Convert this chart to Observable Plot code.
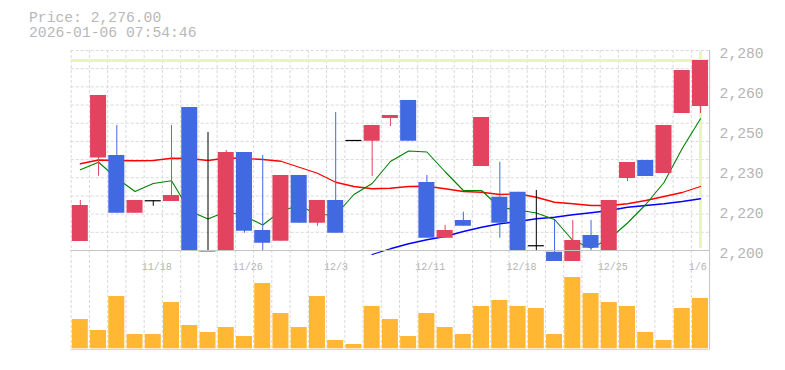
<!DOCTYPE html>
<html>
<head>
<meta charset="utf-8">
<script src="https://cdn.jsdelivr.net/npm/d3@7"></script>
<script src="https://cdn.jsdelivr.net/npm/@observablehq/plot@0.6"></script>
<style>
  html, body { margin: 0; padding: 0; background: #fff; }
  #wrap { position: relative; width: 785px; height: 370px; overflow: hidden; font-family: "Liberation Mono", "DejaVu Sans Mono", monospace; }
  #title { position: absolute; left: 29px; top: 11px; font-size: 14.7px; line-height: 15px; color: #b8b8b8; white-space: pre; }
  #vol, #price { position: absolute; left: 0; }
  #vol { top: 250px; }
  #price { top: 0; }
  svg { overflow: hidden; }
</style>
</head>
<body>
<div id="wrap">
  <div id="vol"></div>
  <div id="price"></div>
  <div id="title">Price: 2,276.00
2026-01-06 07:54:46</div>
</div>
<script>
// ---- data ----
const dates = ["11/12","11/13","11/14","11/17","11/18","11/19","11/20","11/21","11/25","11/26",
               "11/27","11/28","12/1","12/2","12/3","12/4","12/5","12/8","12/9","12/11",
               "12/12","12/15","12/16","12/17","12/18","12/19","12/22","12/23","12/24","12/25",
               "12/26","12/29","12/30","1/5","1/6"];
const open  = [2203.6, 2237, 2238, 2214.9, 2219.9, 2219.6, 2257.2, 2199.9, 2199.8, 2239.2,
               2208, 2203.7, 2230, 2210.9, 2220, 2244, 2243.7, 2252.8, 2260, 2227.2,
               2204.9, 2212, 2233.6, 2221.3, 2223.3, 2201.9, 2199.3, 2194, 2206, 2199.8,
               2228.8, 2236, 2230.8, 2254.8, 2257.6];
const close = [2218, 2262, 2214.9, 2220, 2219.9, 2222, 2199.8, 2199.9, 2239.2, 2207.7,
               2202.9, 2230, 2210.9, 2220, 2206.9, 2244, 2250, 2254, 2243.7, 2204.9,
               2208, 2209.7, 2253.2, 2210.9, 2199.8, 2201.9, 2194, 2204, 2200.9, 2220,
               2235.2, 2229.6, 2250, 2272, 2276];
const high  = [2220, 2262, 2250, 2220, 2219.9, 2250, 2257.2, 2247.2, 2240, 2239.2,
               2238, 2230, 2230, 2220, 2255.2, 2244, 2250, 2254, 2260, 2230,
               2210, 2215.3, 2253.2, 2235.3, 2223.3, 2224, 2212, 2212, 2212, 2220,
               2235.2, 2236, 2250, 2272, 2276];
const low   = [2203.6, 2229.7, 2214.9, 2214.9, 2217.7, 2219.6, 2199.8, 2199.9, 2199.8, 2206.9,
               2199.8, 2203.7, 2210.9, 2209.7, 2206.9, 2244, 2229.6, 2249.6, 2243.7, 2204.9,
               2204.9, 2209.7, 2233.6, 2204.9, 2199.8, 2199.8, 2194, 2194, 2199.8, 2199.8,
               2227.6, 2229.6, 2230.8, 2254.8, 2254.8];
const volume = [29.3, 18.3, 52.3, 14.3, 14.3, 46.3, 23.3, 16.3, 21.3, 12.3,
                65.3, 35.3, 21.3, 52.3, 8.3, 4.3, 42.3, 29.3, 12.3, 35.3,
                21.3, 14.3, 42.3, 48.3, 42.3, 40.3, 14.3, 71.3, 55.3, 46.3,
                42.3, 16.3, 8.3, 40.3, 50.3];
const ma5  = [2232.3, 2235.3, 2228.9, 2223.6, 2226.8, 2227.9, 2215.8, 2212.6, 2215.6, 2213.8,
              2210.2, 2215.8, 2218, 2214.4, 2214.2, 2222.4, 2226.8, 2235.6, 2239.8, 2239.4,
              2231.5, 2224, 2224, 2217.2, 2216.2, 2215, 2212.4, 2204, 2201, 2204.6,
              2211, 2218.4, 2227.2, 2240.8, 2252.7];
const ma25 = [2234.7, 2236.2, 2236, 2235.9, 2236, 2236.9, 2236.8, 2236, 2237, 2236.8,
              2236.4, 2235.7, 2233.3, 2230.9, 2227.3, 2225.6, 2224.7, 2224.9, 2225.6, 2225.7,
              2224.7, 2223.6, 2223.3, 2222.4, 2222.7, 2221.3, 2219.3, 2218.7, 2218, 2218,
              2218.7, 2220, 2221.6, 2223.2, 2225.6];
const ma75 = [null, null, null, null, null, null, null, null, null, null,
              null, null, null, null, null, null, 2198.4, 2200.7, 2202.7, 2204.3,
              2205.6, 2207.6, 2209.3, 2210.7, 2211.6, 2212.7, 2213.3, 2214.3, 2215.1, 2216,
              2217.3, 2218, 2218.7, 2219.6, 2220.7];
const yTicks = [2200, 2216, 2232, 2248, 2264, 2280];
const yTickLabels = ["2,200", "2,220", "2,230", "2,250", "2,260", "2,280"];
const xTickLabels = ["11/18", "11/26", "12/3", "12/11", "12/18", "12/25", "1/6"];
const lastPrice = 2276;

// ---- styling ----
const UP = "#e2435f", DOWN = "#4169e1", FLAT = "#000000";
const GRID = "#d9d9d9", BORDER = "#c4c4c4", HILITE = "#e8f6b6", TEXT = "#b4b4b4";
const half = 0.4386;
const n = dates.length;
const idx = d3.range(n);
const xOpt = {type: "linear", domain: [-0.5, n - 0.5], range: [70.7, 709.1], axis: null};

const candles = idx.map(i => ({
  i, o: open[i], h: high[i], l: low[i], c: close[i],
  col: close[i] > open[i] ? UP : close[i] < open[i] ? DOWN : FLAT
}));

const price = Plot.plot({
  width: 785, height: 261,
  marginTop: 50, marginBottom: 11, marginLeft: 70.7, marginRight: 75.9,
  style: {background: "transparent", overflow: "hidden", fontFamily: "Liberation Mono, DejaVu Sans Mono, monospace"},
  x: xOpt,
  y: {domain: [2200, 2280], axis: null},
  color: {type: "identity"},
  marks: [
    Plot.ruleX(d3.range(n + 1).map(k => k - 0.5), {stroke: GRID, strokeDasharray: "3,2"}),
    Plot.ruleY(d3.range(12).map(k => 2200 + k * 80 / 11), {stroke: GRID, strokeDasharray: "3,2"}),
    Plot.ruleY([lastPrice], {stroke: HILITE, strokeWidth: 3}),
    Plot.ruleX([n - 1], {stroke: HILITE, strokeWidth: 3, insetTop: 1, insetBottom: 2}),
    Plot.line(idx, {x: i => i, y: i => ma25[i], stroke: "#ff0000", strokeWidth: 1.3}),
    Plot.line(idx, {x: i => i, y: i => ma75[i], stroke: "#0000ff", strokeWidth: 1.3}),
    Plot.line(idx, {x: i => i, y: i => ma5[i], stroke: "#008000", strokeWidth: 1.1}),
    Plot.ruleX(candles, {x: "i", y1: "l", y2: "h", stroke: "col"}),
    Plot.rectY(candles.filter(d => d.col !== FLAT), {x1: d => d.i - half, x2: d => d.i + half, y1: "o", y2: "c", fill: "col"}),
    Plot.ruleY(candles.filter(d => d.col === FLAT), {x1: d => d.i - half, x2: d => d.i + half, y: "o", stroke: FLAT, strokeWidth: 1.2}),
    Plot.ruleY([2200], {stroke: BORDER}),
    Plot.ruleX([n - 0.5], {stroke: BORDER}),
    Plot.axisY(yTicks, {
      anchor: "right", tickSize: 0, tickPadding: 10, textAnchor: "start",
      tickFormat: d => yTickLabels[yTicks.indexOf(d)],
      fill: TEXT, fontSize: 14.7, dy: 3
    })
  ]
});
document.getElementById("price").append(price);

const vol = Plot.plot({
  width: 785, height: 100,
  marginTop: 0, marginBottom: 1.7, marginLeft: 70.7, marginRight: 75.9,
  style: {background: "transparent", overflow: "hidden", fontFamily: "Liberation Mono, DejaVu Sans Mono, monospace"},
  x: xOpt,
  y: {domain: [0, 98.3], axis: null},
  marks: [
    Plot.ruleX(d3.range(n).map(k => k - 0.5), {stroke: GRID, strokeDasharray: "3,2", insetBottom: -1}),
    Plot.rectY(idx, {x1: i => i - half, x2: i => i + half, y1: 0, y2: i => volume[i], fill: "#ffb734"}),
    Plot.ruleY([0], {stroke: BORDER, dy: 1}),
    Plot.ruleX([n - 0.5], {stroke: BORDER, insetBottom: -1}),
    Plot.text(xTickLabels, {
      x: d => dates.indexOf(d) - 0.5, frameAnchor: "top", text: d => d,
      textAnchor: "start", dx: -2.5, dy: 12, fontSize: 10, fill: TEXT
    })
  ]
});
document.getElementById("vol").append(vol);
</script>
</body>
</html>
